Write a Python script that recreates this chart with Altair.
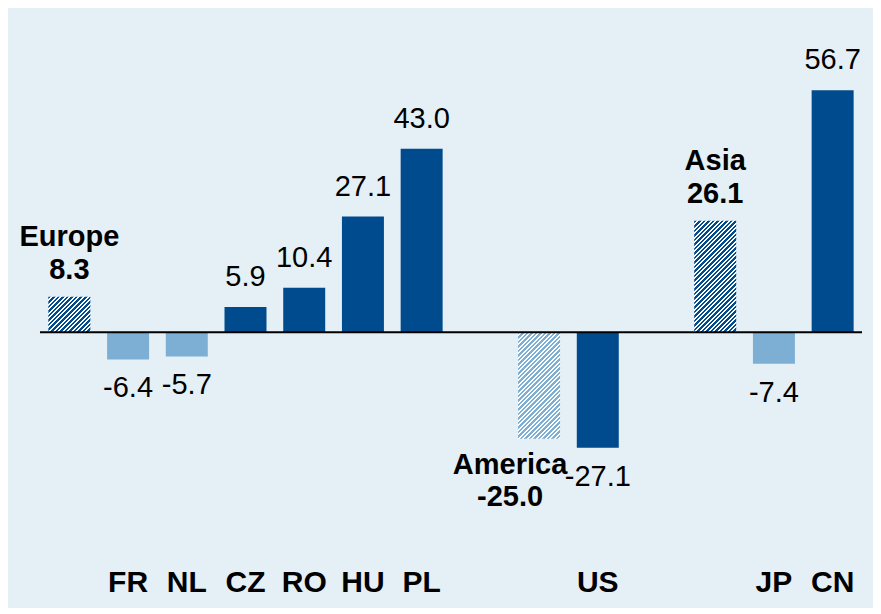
import math
import altair as alt
import pandas as pd

# ---- data ----
slots = ["Europe", "FR", "NL", "CZ", "RO", "HU", "PL", " ",
         "America", "US", "  ", "Asia", "JP", "CN"]
names = ["Europe", "FR", "NL", "CZ", "RO", "HU", "PL", "America", "US", "Asia", "JP", "CN"]
values = [8.3, -6.4, -5.7, 5.9, 10.4, 27.1, 43.0, -25.0, -27.1, 26.1, -7.4, 56.7]
kinds = ["group", "light", "light", "dark", "dark", "dark", "dark",
         "group", "dark", "group", "light", "dark"]
groups = ["Europe", "America", "Asia"]
group_shade = {"Europe": "dark", "America": "light", "Asia": "dark"}

DARK = "#004B8D"
LIGHT = "#7DAFD5"
BG = "#E4EFF6"

df = pd.DataFrame({"name": names, "value": values, "kind": kinds})
df["label"] = [f"{v:.1f}" for v in values]
zero_df = pd.DataFrame({"value": [0.0]})

# ---- layout ----
W, H = 822, 540
Y_MIN, Y_MAX = -50.6, 76.0
PAD_INNER = 0.285
FONT = "Liberation Sans"
FS = 29
FS_CAT = 30

k = H / (Y_MAX - Y_MIN)
bar_w = W / len(slots) * (1 - PAD_INNER)

y_scale = alt.Scale(domain=[Y_MIN, Y_MAX], nice=False, zero=False)
x_enc = alt.X("name:N",
              scale=alt.Scale(domain=slots, paddingInner=PAD_INNER, paddingOuter=PAD_INNER / 2),
              axis=alt.Axis(title=None, domain=False, ticks=False, grid=False,
                            labelAngle=0, labelFont=FONT, labelFontSize=FS_CAT,
                            labelFontWeight="bold", labelColor="black",
                            labelPadding=19,
                            labelExpr="datum.value == 'Europe' || datum.value == 'America' || datum.value == 'Asia' ? '' : datum.value"))
y_enc = alt.Y("value:Q", scale=y_scale, axis=None)

base = alt.Chart(df)

solid = base.transform_filter("datum.kind != 'group'").mark_bar().encode(
    x=x_enc, y=y_enc,
    color=alt.Color("kind:N", scale=alt.Scale(domain=["dark", "light"], range=[DARK, LIGHT]),
                    legend=None),
)


def hatch(w, h, c1, c2, period=3.2, frac=0.55):
    t = (1 / h + 1 / w) / (1 / h ** 2 + 1 / w ** 2)
    x2, y2 = t / h, t / w
    L = (w + h) / math.sqrt(2)
    n = max(1, round(L / period))
    stops = []
    for j in range(n):
        a = round(j / n, 5)
        m = round((j + frac) / n, 5)
        b = round(min(1.0, (j + 1) / n), 5)
        stops += [alt.GradientStop(offset=a, color=c1), alt.GradientStop(offset=m, color=c1),
                  alt.GradientStop(offset=m, color=c2), alt.GradientStop(offset=b, color=c2)]
    return alt.LinearGradient(gradient="linear", stops=stops, x1=0, y1=0, x2=x2, y2=y2)


hatch_layers = []
for g in groups:
    v = values[names.index(g)]
    c = DARK if group_shade[g] == "dark" else LIGHT
    hatch_layers.append(
        base.transform_filter(alt.datum.name == g).mark_bar(
            color=hatch(bar_w, abs(v) * k, c, "white")
        ).encode(x=x_enc, y=y_enc)
    )

zero = alt.Chart(zero_df).mark_rule(color="black", strokeWidth=2).encode(y=y_enc)

txt = dict(font=FONT, fontSize=FS, color="black")
pos_lbl = base.transform_filter("datum.kind != 'group' && datum.value >= 0").mark_text(
    baseline="alphabetic", dy=-21, **txt).encode(x=x_enc, y=y_enc, text="label:N")
neg_lbl = base.transform_filter("datum.kind != 'group' && datum.value < 0").mark_text(
    baseline="alphabetic", dy=38, **txt).encode(x=x_enc, y=y_enc, text="label:N")

btxt = dict(font=FONT, fontSize=FS, fontWeight="bold", color="black")
gpos = "datum.kind == 'group' && datum.value >= 0"
gneg = "datum.kind == 'group' && datum.value < 0"
g_pos_name = base.transform_filter(gpos).mark_text(baseline="alphabetic", dy=-51, **btxt).encode(
    x=x_enc, y=y_enc, text="name:N")
g_pos_val = base.transform_filter(gpos).mark_text(baseline="alphabetic", dy=-18, **btxt).encode(
    x=x_enc, y=y_enc, text="label:N")
g_neg_name = base.transform_filter(gneg).mark_text(baseline="alphabetic", dy=35, dx=-29, **btxt).encode(
    x=x_enc, y=y_enc, text="name:N")
g_neg_val = base.transform_filter(gneg).mark_text(baseline="alphabetic", dy=67, dx=-29, **btxt).encode(
    x=x_enc, y=y_enc, text="label:N")

chart = alt.layer(
    solid, *hatch_layers, zero, pos_lbl, neg_lbl, g_pos_name, g_pos_val, g_neg_name, g_neg_val
).properties(
    width=W, height=H,
    padding={"left": 32, "right": 11, "top": 0, "bottom": 60},
    autosize=alt.AutoSizeParams(type="none"),
    background=BG,
).configure_view(stroke=None)

chart.save("out.html", embed_options={"renderer": "svg", "actions": False})
